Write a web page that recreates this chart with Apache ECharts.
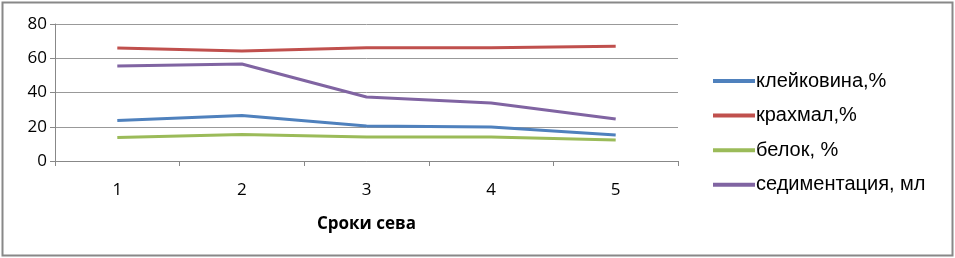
<!DOCTYPE html>
<html><head><meta charset="utf-8">
<script src="https://cdn.jsdelivr.net/npm/echarts@6/dist/echarts.min.js"></script>
<style>html,body{margin:0;padding:0;background:#fff}#c{width:955px;height:258px}</style>
</head><body><div id="c"></div>
<script>
const categories = ['1','2','3','4','5'];
const seriesNames = ['клейковина,%','крахмал,%','белок, %','седиментация, мл'];
const gluten = [23.6, 26.6, 20.4, 19.9, 15.2];
const starch = [66.0, 64.2, 66.2, 66.2, 67.0];
const protein = [13.7, 15.5, 14.0, 14.0, 12.3];
const sedimentation = [55.5, 56.6, 37.4, 33.9, 24.5];
const colors = ['#4F81BD','#C0504D','#9BBB59','#8064A2'];
const values = [gluten, starch, protein, sedimentation];

const chart = echarts.init(document.getElementById('c'));
chart.setOption({
  animation:false,
  graphic:[{type:'rect',shape:{x:2.5,y:2.5,width:950,height:253},style:{fill:'none',stroke:'#888',lineWidth:2}}],
  grid:{left:55,right:277,top:24,bottom:97},
  legend:{orient:'vertical',left:708,top:66,itemWidth:42,itemHeight:4,itemGap:14.6,icon:'rect',
    textStyle:{fontFamily:'Liberation Sans',fontSize:20,color:'#000',padding:[0,0,0,-4]},
    data:seriesNames},
  xAxis:{type:'category',data:categories,boundaryGap:true,
    name:'Сроки сева',nameLocation:'middle',nameGap:55,
    nameTextStyle:{fontFamily:'Open Sans',fontWeight:'bold',fontSize:17,color:'#000'},
    axisLine:{lineStyle:{color:'#888',width:1}},
    axisTick:{show:true,length:5,lineStyle:{color:'#888'}},
    axisLabel:{fontFamily:'Open Sans',fontSize:17,color:'#000',margin:21}},
  yAxis:{type:'value',min:0,max:80,interval:20,
    axisLine:{show:true,lineStyle:{color:'#888'}},
    axisTick:{show:true,length:5,lineStyle:{color:'#888'}},
    splitLine:{lineStyle:{color:'#999',width:1}},
    axisLabel:{fontFamily:'Open Sans',fontSize:17,color:'#000',margin:8}},
  series: seriesNames.map((n,i)=>({name:n,type:'line',data:values[i],symbol:'none',
    lineStyle:{color:colors[i],width:3},itemStyle:{color:colors[i]}}))
});
</script></body></html>
